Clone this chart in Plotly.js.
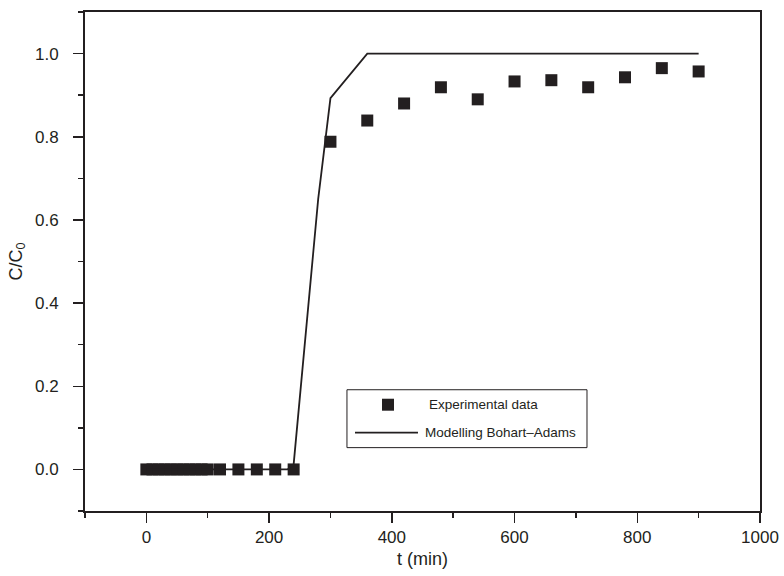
<!DOCTYPE html>
<html>
<head>
<meta charset="utf-8">
<script src="https://cdn.plot.ly/plotly-3.0.1.min.js"></script>
<style>html,body{margin:0;padding:0;background:#fff;}#chart{width:784px;height:576px;}</style>
</head>
<body>
<div id="chart"></div>
<script>
// Experimental data
var expT = [0, 10, 20, 30, 40, 50, 60, 70, 80, 90, 100, 120, 150, 180, 210, 240, 300, 360, 420, 480, 540, 600, 660, 720, 780, 840, 900];
var expC = [0, 0, 0, 0, 0, 0, 0, 0, 0, 0, 0, 0, 0, 0, 0, 0, 0.788, 0.839, 0.880, 0.919, 0.890, 0.933, 0.936, 0.919, 0.943, 0.965, 0.957];
// Bohart-Adams model
var modT = [0, 30, 60, 90, 120, 150, 180, 210, 230, 240, 260, 280, 300, 360, 420, 480, 540, 600, 660, 720, 780, 840, 900];
var modC = [0, 0, 0, 0, 0, 0, 0, 0, 0, 0.012, 0.33, 0.65, 0.893, 1.0, 1.0, 1.0, 1.0, 1.0, 1.0, 1.0, 1.0, 1.0, 1.0];
var legendLabels = ['Experimental data', 'Modelling Bohart\u2013Adams'];

var ink = '#231f20';
var fontFam = 'Liberation Sans, Arial, sans-serif';
var traces = [
  {x: expT, y: expC, type: 'scatter', mode: 'markers', name: legendLabels[0],
   marker: {symbol: 'square', size: 12, color: ink}},
  {x: modT, y: modC, type: 'scatter', mode: 'lines', name: legendLabels[1],
   line: {color: ink, width: 1.8}}
];
var axisCommon = {
  showgrid: false, zeroline: false, showline: true, linecolor: ink, linewidth: 2, mirror: true,
  ticks: 'outside', ticklen: 10, tickwidth: 1.5, tickcolor: ink,
  tickfont: {family: fontFam, size: 17, color: ink}
};
var layout = {
  width: 784, height: 576,
  margin: {l: 85, r: 23.5, t: 11.5, b: 64.5},
  paper_bgcolor: '#fff', plot_bgcolor: '#fff',
  showlegend: false,
  xaxis: Object.assign({}, axisCommon, {
    range: [-100, 1000], tick0: 0, dtick: 200,
    minor: {dtick: 100, tick0: 0, ticks: 'outside', ticklen: 5, tickwidth: 1.5, tickcolor: ink},
    title: {text: 't (min)', font: {family: fontFam, size: 18, color: ink}, standoff: 6}
  }),
  yaxis: Object.assign({}, axisCommon, {
    range: [-0.1, 1.1], tick0: 0, dtick: 0.2, tickformat: '.1f', ticklabelstandoff: 11,
    minor: {dtick: 0.1, tick0: 0, ticks: 'outside', ticklen: 5, tickwidth: 1.5, tickcolor: ink},
    title: {text: 'C/C<sub>0</sub>', font: {family: fontFam, size: 18, color: ink}, standoff: 8}
  }),
  shapes: [
    {type: 'rect', xref: 'paper', yref: 'paper', x0: 0.3881, x1: 0.7437, y0: 0.127, y1: 0.243,
     line: {color: ink, width: 1}, fillcolor: '#fff', layer: 'above'},
    {type: 'rect', xref: 'paper', yref: 'paper', x0: 0.440, x1: 0.4578, y0: 0.201, y1: 0.225,
     line: {width: 0}, fillcolor: ink, layer: 'above'},
    {type: 'line', xref: 'paper', yref: 'paper', x0: 0.400, x1: 0.4933, y0: 0.157, y1: 0.157,
     line: {color: ink, width: 1.8}, layer: 'above'}
  ],
  annotations: [
    {xref: 'paper', yref: 'paper', x: 0.5067, y: 0.213, xanchor: 'left', yanchor: 'middle',
     text: legendLabels[0], showarrow: false, font: {family: fontFam, size: 13.5, color: ink}},
    {xref: 'paper', yref: 'paper', x: 0.5007, y: 0.157, xanchor: 'left', yanchor: 'middle',
     text: legendLabels[1], showarrow: false, font: {family: fontFam, size: 13.5, color: ink}}
  ]
};
Plotly.newPlot('chart', traces, layout, {displayModeBar: false, staticPlot: true});
</script>
</body>
</html>
